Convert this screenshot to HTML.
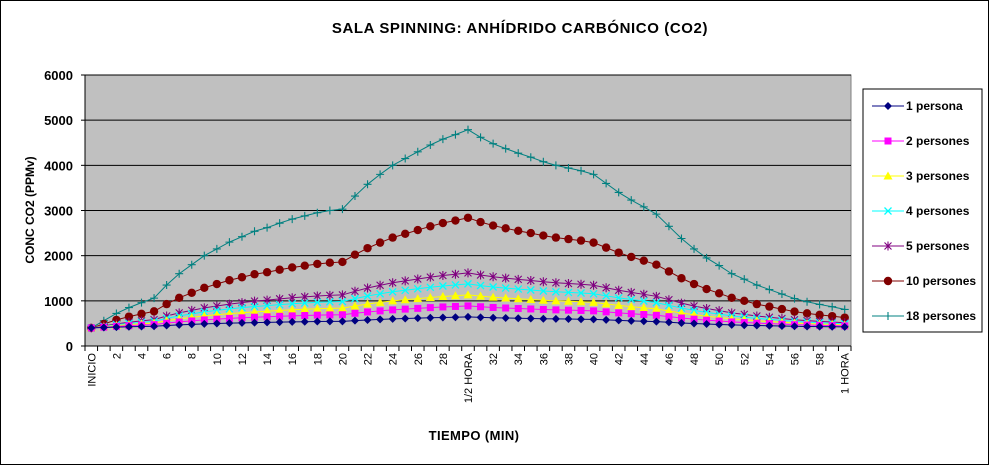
<!DOCTYPE html>
<html><head><meta charset="utf-8"><style>
body{margin:0;background:#fff}
svg{display:block;font-family:"Liberation Sans",Arial,sans-serif}
</style></head><body>
<svg id="s" width="991" height="466" xmlns="http://www.w3.org/2000/svg">
<rect x="0.5" y="0.5" width="988" height="464" fill="#fff" stroke="#000"/>
<text x="520" y="33" text-anchor="middle" font-size="15" font-weight="bold" letter-spacing="0.6">SALA SPINNING: ANHÍDRIDO CARBÓNICO (CO2)</text>
<rect x="85" y="75" width="766" height="271" fill="#c0c0c0" stroke="#808080"/>
<g id="g"></g>
<text transform="translate(34,210) rotate(-90)" text-anchor="middle" font-size="12" font-weight="bold">CONC CO2 (PPMv)</text>
<text x="474" y="440" text-anchor="middle" font-size="13" font-weight="bold" letter-spacing="0.4">TIEMPO (MIN)</text>
<rect x="863" y="89" width="119" height="243" fill="#fff" stroke="#000"/>
<g id="lg"></g>
</svg>
<script>
const d18=[400,560,720,850,960,1060,1350,1600,1800,2000,2150,2300,2420,2540,2620,2720,2810,2880,2950,3000,3030,3320,3580,3800,4000,4150,4300,4450,4580,4680,4790,4620,4480,4370,4270,4180,4080,4000,3940,3880,3800,3600,3400,3230,3080,2920,2650,2380,2150,1950,1780,1600,1480,1350,1250,1150,1050,980,920,870,810];
const L=85,R=851,T=75,B=346;
const X=i=>L+(R-L)/61*(i+0.5), Y=v=>B-(v/6000)*(B-T);
let h='';
for(let k=1;k<=6;k++){h+=`<line x1="${L}" x2="${R}" y1="${Y(k*1000)}" y2="${Y(k*1000)}" stroke="#000"/>`;}
h+=`<line x1="${L}" x2="${L}" y1="${T}" y2="${B}" stroke="#000"/><line x1="${L}" x2="${R}" y1="${B}" y2="${B}" stroke="#000"/>`;
for(let k=0;k<=6;k++){h+=`<line x1="${L-4}" x2="${L}" y1="${Y(k*1000)}" y2="${Y(k*1000)}" stroke="#000"/><text x="${L-12}" y="${Y(k*1000)+5}" text-anchor="end" font-size="13" font-weight="bold">${k*1000}</text>`;}
for(let i=0;i<=61;i++){const x=L+(R-L)/61*i;h+=`<line x1="${x}" x2="${x}" y1="${B}" y2="${B+5}" stroke="#000"/>`;}
for(let i=0;i<=60;i+=2){const lab=i==0?'INICIO':i==30?'1/2 HORA':i==60?'1 HORA':i;h+=`<text transform="translate(${X(i)+4},${B+7}) rotate(-90)" text-anchor="end" font-size="11">${lab}</text>`;}
function mk(t,x,y,c){
 if(t=='d')return `<polygon points="${x},${y-4} ${x+4},${y} ${x},${y+4} ${x-4},${y}" fill="${c}"/>`;
 if(t=='s')return `<rect x="${x-3.5}" y="${y-3.5}" width="7" height="7" fill="${c}"/>`;
 if(t=='t')return `<polygon points="${x},${y-4.5} ${x+4.5},${y+3.5} ${x-4.5},${y+3.5}" fill="${c}"/>`;
 if(t=='x')return `<path d="M${x-3.5} ${y-3.5}L${x+3.5} ${y+3.5}M${x+3.5} ${y-3.5}L${x-3.5} ${y+3.5}" stroke="${c}" stroke-width="1.3"/>`;
 if(t=='a')return `<path d="M${x-3.5} ${y-3.5}L${x+3.5} ${y+3.5}M${x+3.5} ${y-3.5}L${x-3.5} ${y+3.5}M${x} ${y-4.5}V${y+4.5}" stroke="${c}" stroke-width="1.1"/>`;
 if(t=='c')return `<circle cx="${x}" cy="${y}" r="4.2" fill="${c}"/>`;
 if(t=='p')return `<path d="M${x-4} ${y}H${x+4}M${x} ${y-4}V${y+4}" stroke="${c}" stroke-width="1.1"/>`;
}
const S=[[18,'p','#008080','18 persones'],[10,'c','#800000','10 persones'],[5,'a','#800080','5 persones'],[4,'x','#00ffff','4 persones'],[3,'t','#ffff00','3 persones'],[2,'s','#ff00ff','2 persones'],[1,'d','#000080','1 persona']];
for(const [n,t,c] of S){
 const v=d18.map(a=>400+n/18*(a-400));
 h+=`<polyline fill="none" stroke="${c}" stroke-width="1" points="${v.map((a,i)=>X(i)+','+Y(a)).join(' ')}"/>`;
 v.forEach((a,i)=>h+=mk(t,X(i),Y(a),c));
}
document.getElementById('g').innerHTML=h;
let g='';
S.slice().reverse().forEach(([n,t,c,l],i)=>{const y=106+i*35;g+=`<line x1="872" x2="904" y1="${y}" y2="${y}" stroke="${c}"/>`+mk(t,888,y,c)+`<text x="906" y="${y+4}" font-size="12" font-weight="bold">${l}</text>`;});
document.getElementById('lg').innerHTML=g;
</script>
</body></html>
